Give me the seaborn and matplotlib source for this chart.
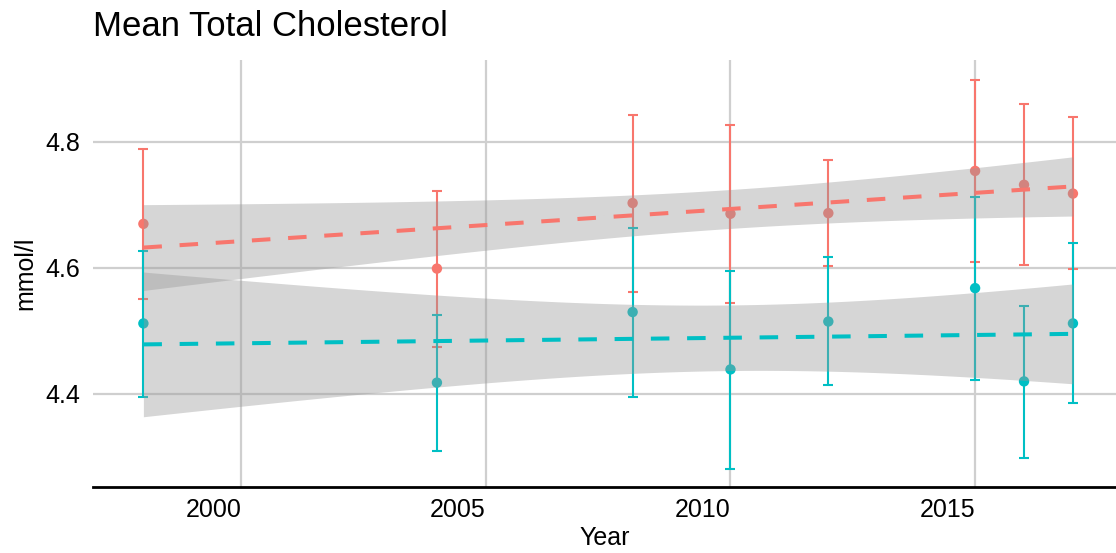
import numpy as np
import pandas as pd
import matplotlib
matplotlib.use("Agg")
import matplotlib.pyplot as plt
import seaborn as sns

# Survey years and mean total cholesterol (mmol/l) with 95% intervals
years = [1998, 2004, 2008, 2010, 2012, 2015, 2016, 2017]

group_a_mean = [4.670, 4.599, 4.703, 4.686, 4.687, 4.754, 4.732, 4.718]
group_a_low = [4.550, 4.475, 4.562, 4.544, 4.603, 4.609, 4.605, 4.598]
group_a_high = [4.789, 4.722, 4.843, 4.827, 4.772, 4.898, 4.860, 4.839]

group_b_mean = [4.512, 4.418, 4.530, 4.439, 4.515, 4.568, 4.420, 4.512]
group_b_low = [4.395, 4.309, 4.395, 4.281, 4.414, 4.422, 4.299, 4.385]
group_b_high = [4.627, 4.526, 4.663, 4.595, 4.617, 4.713, 4.539, 4.639]

group_names = ["A", "B"]
palette = {"A": "#F8766D", "B": "#00BFC4"}

x_ticks = [2000, 2005, 2010, 2015]
y_ticks = [4.4, 4.6, 4.8]

frames = []
for name, m, lo, hi in [("A", group_a_mean, group_a_low, group_a_high),
                        ("B", group_b_mean, group_b_low, group_b_high)]:
    frames.append(pd.DataFrame({"Year": years, "mean": m, "low": lo,
                                "high": hi, "group": name}))
df = pd.concat(frames, ignore_index=True)

sns.set_theme(style="whitegrid")
plt.rcParams["font.family"] = ["Liberation Sans", "DejaVu Sans"]

W, H = 1116, 553
fig = plt.figure(figsize=(W / 100, H / 100), dpi=100)
ax = fig.add_axes([93 / W, (H - 487) / H, 1023 / W, 427 / H])

# error bars
for name in group_names:
    d = df[df["group"] == name]
    ax.errorbar(d["Year"], d["mean"],
                 yerr=[d["mean"] - d["low"], d["high"] - d["mean"]],
                 fmt="none", ecolor=palette[name], elinewidth=1.5,
                 capsize=3.3, capthick=1.5, zorder=2)

# mean points
sns.scatterplot(data=df, x="Year", y="mean", hue="group", palette=palette,
                s=56, linewidth=0, legend=False, ax=ax, zorder=3)

# linear trend with 95% confidence band (t-based)
for name in group_names:
    d = df[df["group"] == name]
    x = d["Year"].to_numpy(dtype=float)
    y = d["mean"].to_numpy(dtype=float)
    n = len(x)
    slope, intercept = np.polyfit(x, y, 1)
    xs = np.linspace(x.min(), x.max(), 100)
    fit = intercept + slope * xs
    resid = y - (intercept + slope * x)
    s = np.sqrt(np.sum(resid ** 2) / (n - 2))
    se = s * np.sqrt(1 / n + (xs - x.mean()) ** 2 / np.sum((x - x.mean()) ** 2))
    tcrit = 2.446912  # t(0.975, df=6)
    ax.fill_between(xs, fit - tcrit * se, fit + tcrit * se,
                    color="#999999", alpha=0.4, lw=0, zorder=4)
    sns.regplot(x=x, y=y, scatter=False, ci=None, truncate=True, ax=ax,
                color=palette[name],
                line_kws=dict(lw=2.9, dashes=(4.6, 4.4), zorder=5))

ax.set_xlim(1996.97, 2017.88)
ax.set_ylim(4.2524, 4.930)
ax.set_xticks(x_ticks)
ax.set_yticks(y_ticks)
ax.set_xticklabels([str(t) for t in x_ticks], ha="right")
ax.set_yticklabels([f"{t:.1f}" for t in y_ticks])

ax.grid(True, color="#CFCFCF", lw=1.6)
ax.set_axisbelow(True)
for side in ["left", "right", "top"]:
    ax.spines[side].set_visible(False)
ax.spines["bottom"].set_color("black")
ax.spines["bottom"].set_linewidth(2.0)

ax.tick_params(axis="both", length=0, labelsize=18, colors="black")
ax.tick_params(axis="x", pad=8)
ax.tick_params(axis="y", pad=9)

ax.set_xlabel("Year", fontsize=18, color="black", labelpad=3)
ax.set_ylabel("mmol/l", fontsize=18, color="black", labelpad=6)

fig.text(93 / W, 1 - 10 / H, "Mean Total Cholesterol", fontsize=25,
         ha="left", va="top", color="black")

fig.savefig("out.png", dpi=100, facecolor="white")
